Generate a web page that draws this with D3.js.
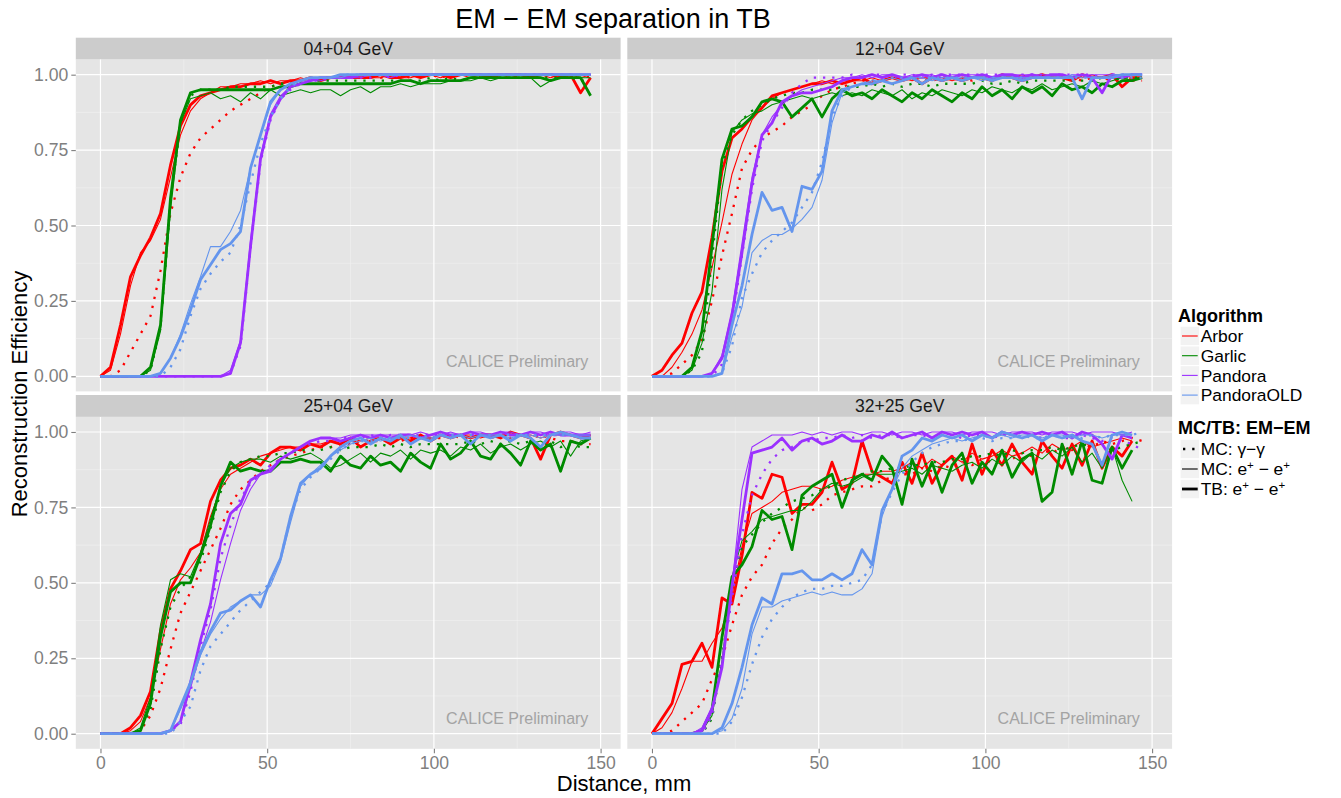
<!DOCTYPE html>
<html><head><meta charset="utf-8">
<script src="https://cdn.jsdelivr.net/npm/d3@7/dist/d3.min.js"></script>
<style>
body{margin:0;background:#fff}
text{font-family:"Liberation Sans",Arial,Helvetica,sans-serif}
</style>
</head><body>
<svg id="c" width="1341" height="798"></svg>
<script>
// ---------- DATA (efficiency in %) ----------
const xs = [0,3,6,9,12,15,18,21,24,27,30,33,36,39,42,45,48,51,54,57,60,63,66,69,72,75,78,81,84,87,90,93,96,99,102,105,108,111,114,117,120,123,126,129,132,135,138,141,144,147];

const algorithms = ["Arbor","Garlic","Pandora","PandoraOLD"];
const algColors  = ["#FF0000","#008B00","#9B30FF","#6495ED"];
const facetTitles = ["04+04 GeV","12+04 GeV","25+04 GeV","32+25 GeV"];
const yTicks = [0,0.25,0.5,0.75,1];
const yTickLabels = ["0.00","0.25","0.50","0.75","1.00"];
const xTicks = [0,50,100,150];
const xTickLabels = ["0","50","100","150"];
const xMinor = [25,75,125];
const yMinor = [0.125,0.375,0.625,0.875];

// Panel 1: 04+04 GeV
const p1_arbor_gg = [0,0,2,8,14,20,35,54,66,74,79,82,85,88,90,92,94,96,97,97,98,98,99,99,99,99,99,100,99,99,100,99,100,100,99,100,100,100,99,100,100,100,99,100,100,100,100,99,100,99];
const p1_arbor_mc = [0,2,14,30,41,45,52,66,80,88,92,94,96,96,97,97,98,97,98,98,99,98,99,99,99,100,99,99,99,100,99,99,100,100,99,100,100,99,100,100,100,99,100,100,100,99,100,100,99,100];
const p1_arbor_tb = [0,3,17,33,40,46,54,70,83,90,93,94,95,96,96,97,97,98,97,98,98,99,98,99,99,99,99,99,100,99,99,100,99,100,100,99,100,100,100,99,100,100,100,99,100,100,99,100,94,99];
const p1_garlic_gg = [0,0,0,0,0,2,16,58,84,93,95,95,95,96,96,96,96,96,97,97,97,98,98,98,98,98,98,98,98,98,98,98,98,99,98,99,98,99,99,99,99,99,99,99,99,99,99,99,98,98];
const p1_garlic_mc = [0,0,0,0,0,2,15,55,84,92,93,94,92,93,91,94,92,95,93,94,95,94,95,95,93,95,96,94,96,96,97,96,97,97,97,98,98,98,99,98,99,99,99,99,96,98,99,99,99,99];
const p1_garlic_tb = [0,0,0,0,0,3,17,59,85,94,95,95,95,95,95,95,95,95,96,96,97,97,97,97,97,97,97,97,97,97,98,98,97,98,98,98,98,99,99,99,99,99,99,99,99,98,99,99,99,93];
const p1_pandora_gg = [0,0,0,0,0,0,0,0,0,0,0,0,0,1,10,42,71,85,92,95,97,98,98,99,99,99,99,99,100,99,100,100,100,100,100,100,100,100,100,100,100,100,100,100,100,100,100,100,100,100];
const p1_pandora_mc = [0,0,0,0,0,0,0,0,0,0,0,0,0,2,12,45,73,87,93,96,97,98,98,99,99,99,99,100,100,99,100,100,100,100,100,100,100,100,100,100,100,100,100,100,100,100,100,100,100,100];
const p1_pandora_tb = [0,0,0,0,0,0,0,0,0,0,0,0,0,1,11,43,72,86,92,96,97,98,99,99,99,99,100,100,100,100,100,100,100,100,100,100,100,100,100,100,100,100,100,100,100,100,100,100,100,100];
const p1_old_gg = [0,0,0,0,0,0,0,3,9,20,29,34,38,41,50,64,77,86,92,96,98,99,99,99,100,100,100,100,100,100,100,100,100,100,100,100,100,100,100,100,100,100,100,100,100,100,100,100,100,100];
const p1_old_mc = [0,0,0,0,0,0,1,6,14,24,33,43,43,48,55,69,80,90,95,97,98,99,99,99,99,100,100,100,100,100,100,100,100,100,100,100,100,100,100,100,100,100,100,100,100,100,100,100,100,100];
const p1_old_tb = [0,0,0,0,0,0,1,6,13,22,32,37,42,44,48,69,80,91,95,97,98,99,99,99,100,100,100,100,100,100,100,100,100,100,100,100,100,100,100,100,100,100,100,100,100,100,100,100,100,100];

// Panel 2: 12+04 GeV
const p2_arbor_gg = [0,0,1,4,7,12,25,40,54,69,75,79,81,83,86,88,90,93,95,96,97,98,98,98,99,98,99,99,98,99,99,99,98,99,99,99,99,98,99,99,99,99,99,98,99,99,98,99,98,98];
const p2_arbor_mc = [0,0,3,8,14,22,36,51,67,77,85,89,92,94,95,96,97,98,97,98,98,98,99,98,99,99,98,99,99,99,98,99,99,100,99,99,99,100,99,99,100,99,99,99,100,99,99,100,99,99];
const p2_arbor_tb = [0,2,7,11,21,28,46,68,79,82,86,89,93,94,95,96,97,97,98,97,98,99,97,98,99,98,99,97,99,98,99,98,99,99,98,100,99,98,99,100,99,99,98,100,99,99,100,96,99,99];
const p2_garlic_gg = [0,0,0,0,2,8,39,70,80,85,88,90,92,93,94,94,95,95,95,96,96,96,97,96,97,96,97,97,96,97,97,97,97,98,97,97,98,97,98,98,98,98,98,98,98,99,98,99,99,99];
const p2_garlic_mc = [0,0,0,0,2,11,28,62,81,85,87,88,90,91,92,93,92,93,94,93,94,93,95,94,93,95,92,94,93,95,94,93,95,94,96,95,94,96,95,97,95,96,97,96,98,97,98,99,98,99];
const p2_garlic_tb = [0,0,0,0,3,15,43,72,82,83,86,91,92,91,86,89,92,86,92,95,93,94,92,95,93,91,94,92,95,93,91,94,92,96,93,95,92,96,94,96,93,97,95,96,94,97,96,98,98,99];
const p2_pandora_gg = [0,0,0,0,0,0,0,4,18,40,62,78,84,89,94,97,99,99,99,99,100,99,100,100,99,100,100,99,100,100,100,100,100,100,100,100,99,100,100,100,100,100,100,100,100,99,100,100,100,100];
const p2_pandora_mc = [0,0,0,0,0,0,1,7,22,44,66,80,86,90,93,95,96,97,98,99,99,100,99,100,100,99,100,100,100,99,100,100,100,100,99,100,100,100,100,100,100,99,100,100,100,100,100,100,100,100];
const p2_pandora_tb = [0,0,0,0,0,0,1,6,20,41,64,80,84,91,93,94,94,95,96,98,99,99,100,99,100,99,99,100,99,100,99,100,99,100,99,100,100,99,100,99,100,100,99,100,99,94,100,99,100,100];
const p2_old_gg = [0,0,0,0,0,0,0,1,10,26,34,41,45,48,51,56,61,71,86,93,96,97,98,98,99,99,99,99,99,99,99,99,99,99,99,99,99,99,99,99,99,99,99,99,99,99,99,99,99,99];
const p2_old_mc = [0,0,0,0,0,0,0,1,13,23,41,45,47,47,49,52,56,65,84,94,96,97,98,98,99,98,99,99,98,99,99,99,99,98,99,99,99,99,99,99,99,99,100,99,99,99,100,100,100,100];
const p2_old_tb = [0,0,0,0,0,0,0,1,17,30,47,61,55,56,48,63,62,68,88,95,96,97,97,98,97,98,99,97,99,98,99,98,99,99,98,99,99,98,99,99,99,99,99,92,99,99,99,100,100,100];

// Panel 3: 25+04 GeV
const p3_arbor_gg = [0,0,0,0,1,6,15,28,40,47,54,61,68,76,81,84,87,89,91,92,93,94,95,95,96,96,97,97,97,98,97,98,98,98,98,99,98,98,99,98,99,98,99,98,99,98,97,97,96,96];
const p3_arbor_mc = [0,0,0,1,4,12,28,43,51,55,60,72,81,86,88,90,92,93,94,95,95,96,96,97,97,98,97,98,98,97,98,98,99,98,99,98,99,99,98,99,99,99,99,99,98,99,99,99,99,99];
const p3_arbor_tb = [0,0,0,2,6,14,34,48,54,61,63,77,84,88,89,91,89,93,95,95,94,96,95,97,96,98,95,97,98,96,98,97,99,97,99,98,99,98,99,99,98,100,99,98,91,99,100,99,98,99];
const p3_garlic_gg = [0,0,0,0,1,8,28,42,48,52,57,68,80,87,90,91,92,92,93,93,94,94,94,95,94,95,95,95,96,95,96,95,96,96,96,96,96,97,96,97,96,97,96,97,96,97,95,96,95,95];
const p3_garlic_mc = [0,0,0,0,2,12,36,51,53,52,60,71,82,88,90,91,91,90,92,91,92,93,91,88,89,91,93,90,93,92,94,91,94,93,94,92,95,94,96,93,95,96,94,96,97,95,97,92,97,98];
const p3_garlic_tb = [0,0,0,0,1,10,32,47,50,50,59,69,82,90,87,88,87,87,90,90,91,90,90,87,92,89,88,92,89,90,87,93,90,88,96,91,93,97,92,91,96,93,89,97,94,96,87,97,96,98];
const p3_pandora_gg = [0,0,0,0,0,0,0,1,3,14,29,41,58,69,78,83,86,89,91,93,95,96,97,97,98,98,98,99,98,99,99,99,99,99,99,99,99,99,99,99,99,99,99,99,99,99,99,99,98,98];
const p3_pandora_mc = [0,0,0,0,0,0,0,1,4,15,27,37,51,63,74,81,86,88,91,93,95,97,98,98,98,99,99,99,99,99,99,99,100,99,99,100,99,100,100,99,100,100,99,100,100,99,100,100,99,100];
const p3_pandora_tb = [0,0,0,0,0,0,0,1,4,17,31,43,63,73,76,84,86,87,91,93,95,97,98,98,97,98,99,98,99,98,99,99,98,99,100,99,99,100,99,99,100,99,99,100,99,100,99,99,99,99];
const p3_old_gg = [0,0,0,0,0,0,0,0,4,9,21,29,33,37,41,44,47,50,58,72,81,85,88,91,94,96,97,97,98,98,98,98,99,98,99,99,99,99,99,99,99,99,99,99,99,99,99,99,98,98];
const p3_old_mc = [0,0,0,0,0,0,0,1,8,16,26,33,38,42,44,46,46,49,57,70,82,86,89,92,94,96,97,98,97,98,98,99,98,98,99,98,99,98,99,99,99,98,99,99,98,99,99,99,99,99];
const p3_old_tb = [0,0,0,0,0,0,0,1,9,17,27,34,40,41,44,46,42,51,58,72,83,86,88,92,95,97,98,96,98,97,99,96,98,97,99,98,99,96,99,98,99,97,99,98,95,99,100,99,98,98];

// Panel 4: 32+25 GeV
const p4_arbor_gg = [0,0,1,4,7,10,18,25,36,46,52,56,63,68,71,75,74,76,79,80,81,82,82,84,85,86,86,88,87,89,88,90,89,91,90,92,91,93,92,94,93,95,94,96,95,97,96,97,98,97];
const p4_arbor_mc = [0,2,7,15,24,24,30,35,46,62,73,75,77,80,81,82,82,81,82,84,85,86,86,87,87,88,90,88,91,89,92,90,93,91,92,94,92,93,95,93,96,94,95,97,95,96,97,98,97,null];
const p4_arbor_tb = [0,5,10,23,24,30,22,45,43,59,80,78,86,85,73,76,76,80,90,81,83,97,87,85,83,90,83,93,83,89,92,84,96,86,94,89,96,90,86,97,92,88,96,89,97,88,95,92,97,null];
const p4_garlic_gg = [0,0,0,0,0,0,5,25,48,62,66,70,73,75,77,78,79,81,82,84,85,86,87,87,88,88,89,89,90,90,91,91,92,92,93,92,94,93,94,94,95,94,95,96,95,96,94,95,96,97];
const p4_garlic_mc = [0,0,0,0,0,1,6,24,52,64,67,71,72,73,74,74,77,81,83,82,83,85,86,86,86,87,88,86,89,88,87,89,90,88,91,89,92,90,93,91,94,92,95,90,93,88,95,84,77,null];
const p4_garlic_tb = [0,0,0,0,0,1,8,32,52,56,62,74,71,72,61,79,82,84,86,75,84,86,84,92,88,76,91,82,90,80,89,93,83,90,86,94,85,91,93,77,80,96,86,97,84,83,95,88,94,null];
const p4_pandora_gg = [0,0,0,0,0,0,6,24,45,66,79,86,91,94,95,97,97,98,98,99,98,99,98,99,99,98,99,99,98,99,99,98,99,99,98,99,99,98,99,98,99,98,98,99,98,97,98,97,96,94];
const p4_pandora_mc = [0,0,0,0,0,2,9,22,49,81,95,97,99,99,99,100,99,100,99,100,100,99,100,100,99,100,100,99,100,100,100,99,100,100,100,99,100,100,100,99,100,100,100,99,100,100,100,99,100,null];
const p4_pandora_tb = [0,0,0,0,0,1,8,22,49,71,93,94,95,98,94,97,98,96,97,99,97,97,99,98,100,98,99,100,98,100,99,100,99,100,98,100,99,100,99,100,99,100,98,100,99,96,91,99,98,null];
const p4_old_gg = [0,0,0,0,0,0,0,0,4,12,23,32,38,42,45,47,48,48,49,49,50,51,56,73,80,86,90,93,95,96,97,97,98,98,97,98,98,99,98,98,99,98,99,98,99,98,99,99,99,100];
const p4_old_mc = [0,0,0,0,0,0,0,1,5,15,33,42,42,44,45,46,47,46,47,46,46,48,53,72,81,88,92,94,96,97,98,97,98,99,98,99,98,99,99,98,99,99,98,99,99,98,99,99,99,null];
const p4_old_tb = [0,0,0,0,0,0,0,2,10,22,36,45,43,53,53,54,51,51,53,51,53,61,56,74,81,92,94,98,97,99,98,99,97,99,98,100,99,98,99,97,99,98,99,97,96,89,99,100,99,null];

const panelSeries = [
  [[p1_arbor_gg,p1_arbor_mc,p1_arbor_tb],[p1_garlic_gg,p1_garlic_mc,p1_garlic_tb],[p1_pandora_gg,p1_pandora_mc,p1_pandora_tb],[p1_old_gg,p1_old_mc,p1_old_tb]],
  [[p2_arbor_gg,p2_arbor_mc,p2_arbor_tb],[p2_garlic_gg,p2_garlic_mc,p2_garlic_tb],[p2_pandora_gg,p2_pandora_mc,p2_pandora_tb],[p2_old_gg,p2_old_mc,p2_old_tb]],
  [[p3_arbor_gg,p3_arbor_mc,p3_arbor_tb],[p3_garlic_gg,p3_garlic_mc,p3_garlic_tb],[p3_pandora_gg,p3_pandora_mc,p3_pandora_tb],[p3_old_gg,p3_old_mc,p3_old_tb]],
  [[p4_arbor_gg,p4_arbor_mc,p4_arbor_tb],[p4_garlic_gg,p4_garlic_mc,p4_garlic_tb],[p4_pandora_gg,p4_pandora_mc,p4_pandora_tb],[p4_old_gg,p4_old_mc,p4_old_tb]]
];

// ---------- STYLES / LAYOUT ----------
const kindStyle = [
  {w:2.3, dash:"2.3,6.9"},   // MC: gamma-gamma (dotted)
  {w:1.1, dash:null},        // MC: e+e+ (thin)
  {w:2.8, dash:null}         // TB: e+e+ (thick)
];
const panels = [
  {x0:75.8,  x1:620.6,  y0:59.6,  y1:391.4, s0:37.7, xaxis:false, yaxis:true},
  {x0:627.3, x1:1172.1, y0:59.6,  y1:391.4, s0:37.7, xaxis:false, yaxis:false},
  {x0:75.8,  x1:620.6,  y0:416.9, y1:748.8, s0:395.0, xaxis:true, yaxis:true},
  {x0:627.3, x1:1172.1, y0:416.9, y1:748.8, s0:395.0, xaxis:true, yaxis:false}
];
const GREY_TXT = "#7F7F7F";

const svg = d3.select("#c");
svg.append("rect").attr("width",1341).attr("height",798).attr("fill","#fff");

panels.forEach((P, pi) => {
  const x = d3.scaleLinear().domain([-7.4,156.0]).range([P.x0,P.x1]);
  const y = d3.scaleLinear().domain([-0.05,1.05]).range([P.y1,P.y0]);
  const g = svg.append("g");
  // strip
  g.append("rect").attr("x",P.x0).attr("y",P.s0).attr("width",P.x1-P.x0).attr("height",P.y0-P.s0).attr("fill","#CCCCCC");
  g.append("text").attr("x",(P.x0+P.x1)/2).attr("y",(P.s0+P.y0)/2).attr("dy","0.36em")
    .attr("text-anchor","middle").attr("font-size",17.6).attr("fill","#1A1A1A").text(facetTitles[pi]);
  // panel bg
  g.append("rect").attr("x",P.x0).attr("y",P.y0).attr("width",P.x1-P.x0).attr("height",P.y1-P.y0).attr("fill","#E5E5E5");
  // minor grid
  xMinor.forEach(v => g.append("line").attr("x1",x(v)).attr("x2",x(v)).attr("y1",P.y0).attr("y2",P.y1).attr("stroke","#F2F2F2").attr("stroke-width",0.6));
  yMinor.forEach(v => g.append("line").attr("x1",P.x0).attr("x2",P.x1).attr("y1",y(v)).attr("y2",y(v)).attr("stroke","#F2F2F2").attr("stroke-width",0.6));
  // major grid
  xTicks.forEach(v => g.append("line").attr("x1",x(v)).attr("x2",x(v)).attr("y1",P.y0).attr("y2",P.y1).attr("stroke","#FFFFFF").attr("stroke-width",1.2));
  yTicks.forEach(v => g.append("line").attr("x1",P.x0).attr("x2",P.x1).attr("y1",y(v)).attr("y2",y(v)).attr("stroke","#FFFFFF").attr("stroke-width",1.2));

  // annotation
  g.append("text").attr("x",x(125)).attr("y",y(0.05)).attr("dy","0.36em").attr("text-anchor","middle")
    .attr("font-size",16).attr("fill","#A3A3A3").text("CALICE Preliminary");

  // lines
  const clipId = "clip"+pi;
  svg.append("clipPath").attr("id",clipId).append("rect").attr("x",P.x0).attr("y",P.y0).attr("width",P.x1-P.x0).attr("height",P.y1-P.y0);
  const lg = g.append("g").attr("clip-path",`url(#${clipId})`);
  const line = d3.line().defined(d => d[1] != null).x(d => x(d[0])).y(d => y(d[1]/100));
  panelSeries[pi].forEach((algSeries, ai) => {
    algSeries.forEach((vals, ki) => {
      const pts = xs.map((xv,i) => [xv, vals[i]]);
      const st = kindStyle[ki];
      const p = lg.append("path").attr("d", line(pts)).attr("fill","none")
        .attr("stroke", algColors[ai]).attr("stroke-width", st.w)
        .attr("stroke-linejoin","round");
      if (st.dash) p.attr("stroke-dasharray", st.dash).attr("stroke-linecap","butt");
    });
  });

  // axes
  if (P.yaxis) {
    const ax = g.append("g").attr("transform",`translate(${P.x0},0)`)
      .call(d3.axisLeft(y).tickValues(yTicks).tickFormat((d,i)=>yTickLabels[i]).tickSize(4.5).tickPadding(3));
    ax.select(".domain").remove();
    ax.selectAll("line").attr("stroke",GREY_TXT).attr("stroke-width",1.1);
    ax.selectAll("text").attr("fill",GREY_TXT).attr("font-size",17.6).attr("font-family","Liberation Sans, Arial, sans-serif");
  }
  if (P.xaxis) {
    const ax = g.append("g").attr("transform",`translate(0,${P.y1})`)
      .call(d3.axisBottom(x).tickValues(xTicks).tickFormat((d,i)=>xTickLabels[i]).tickSize(4.5).tickPadding(3));
    ax.select(".domain").remove();
    ax.selectAll("line").attr("stroke",GREY_TXT).attr("stroke-width",1.1);
    ax.selectAll("text").attr("fill",GREY_TXT).attr("font-size",17.6).attr("font-family","Liberation Sans, Arial, sans-serif");
  }
});

// titles
svg.append("text").attr("x",613).attr("y",28).attr("text-anchor","middle").attr("font-size",27).attr("fill","#000")
  .text("EM \u2212 EM separation in TB");
svg.append("text").attr("x",624).attr("y",791).attr("text-anchor","middle").attr("font-size",22).attr("fill","#000")
  .text("Distance, mm");
svg.append("text").attr("transform","translate(27,394) rotate(-90)").attr("text-anchor","middle").attr("font-size",22).attr("fill","#000")
  .text("Reconstruction Efficiency");

// legend
const LX = 1180, KEY = 19.7;
const leg = svg.append("g");
leg.append("text").attr("x",LX-2).attr("y",322).attr("font-size",18).attr("font-weight","bold").text("Algorithm");
algorithms.forEach((a,i) => {
  const cy = 336 + i*KEY;
  leg.append("rect").attr("x",LX).attr("y",cy-KEY/2).attr("width",KEY).attr("height",KEY).attr("fill","#F2F2F2").attr("stroke","#fff").attr("stroke-width",1.2);
  leg.append("line").attr("x1",LX+2).attr("x2",LX+KEY-2).attr("y1",cy).attr("y2",cy).attr("stroke",algColors[i]).attr("stroke-width",1.1);
  leg.append("text").attr("x",LX+KEY+1).attr("y",cy).attr("dy","0.36em").attr("font-size",17.4).text(a);
});
leg.append("text").attr("x",LX-2).attr("y",434).attr("font-size",18).attr("font-weight","bold").text("MC/TB: EM\u2212EM");
const kindLabels = [["MC: \u03B3\u2212\u03B3",null],["MC: e","+"],["TB: e","+"]];
kindStyle.forEach((st,i) => {
  const cy = 449 + i*20;
  leg.append("rect").attr("x",LX).attr("y",cy-KEY/2).attr("width",KEY).attr("height",KEY).attr("fill","#F2F2F2").attr("stroke","#fff").attr("stroke-width",1.2);
  const l = leg.append("line").attr("x1",LX+2).attr("x2",LX+KEY-2).attr("y1",cy).attr("y2",cy).attr("stroke","#000").attr("stroke-width",st.w);
  if (st.dash) l.attr("stroke-dasharray",st.dash).attr("x1",LX+3);
  const t = leg.append("text").attr("x",LX+KEY+1).attr("y",cy).attr("dy","0.36em").attr("font-size",17.4);
  if (i===0) { t.text(kindLabels[0][0]); }
  else {
    t.append("tspan").text(kindLabels[i][0]);
    t.append("tspan").attr("font-size",11.5).attr("dy","-0.55em").text("+");
    t.append("tspan").attr("dy","0.35em").text(" \u2212 e");
    t.append("tspan").attr("font-size",11.5).attr("dy","-0.55em").text("+");
  }
});
</script>
</body></html>
